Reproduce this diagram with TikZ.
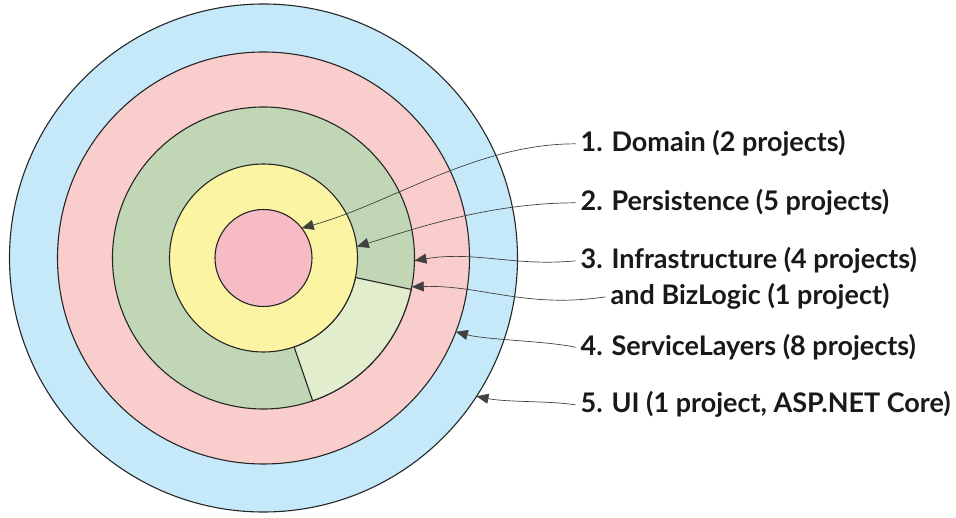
\documentclass[tikz,border=0pt]{standalone}
\usepackage{fontspec}
\setmainfont{Lato}
\usepackage{xcolor}
\usetikzlibrary{arrows.meta, positioning}
\definecolor{uiblue}{HTML}{C6E9FA}
\definecolor{servicepink}{HTML}{FACDCD}
\definecolor{infragreen}{HTML}{C0D6B4}
\definecolor{bizgreen}{HTML}{E2EDCD}
\definecolor{persistyellow}{HTML}{FBF4A2}
\definecolor{domainpink}{HTML}{F6BBC4}
\begin{document}
\begin{tikzpicture}[
    x=1pt, y=1pt,
    ring/.style={circle, draw=black!85, line width=1.1pt, inner sep=0pt, outer sep=0pt},
    layertext/.style={anchor=base west, inner xsep=5pt, inner ysep=2pt, font=\fontsize{27}{32}\selectfont\bfseries, text=black!90},
    arrow/.style={-{Triangle[length=12pt, width=10pt]}, line width=0.7pt, draw=black!75}
]
    \useasboundingbox (-263.5,-260) rectangle (692.5,258);

    \node[ring, fill=uiblue, minimum size=508pt] (ui) at (0,0) {};
    \node[ring, fill=servicepink, minimum size=412pt] (service) at (0,0) {};
    \node[ring, fill=infragreen, minimum size=302pt] (infra) at (0,0) {};
    \filldraw[fill=bizgreen, draw=black!85, line width=1.1pt] (-71:94) -- (-71:151) arc[start angle=-71, end angle=-12, radius=151] -- (-12:94) arc[start angle=-12, end angle=-71, radius=94] -- cycle;
    \node[ring, fill=persistyellow, minimum size=188pt] (persist) at (0,0) {};
    \node[ring, fill=domainpink, minimum size=97pt] (domain) at (0,0) {};
    \coordinate (biz) at (-11:151);

    \node[layertext] (l1) at (312,106) {1. Domain (2 projects)};
    \node[layertext] (l2) at (312,47) {2. Persistence (5 projects)};
    \node[layertext] (l3) at (312,-11) {3. Infrastructure (4 projects)};
    \node[layertext] (l3b) at (342,-47) {and BizLogic (1 project)};
    \node[layertext] (l4) at (312,-97.5) {4. ServiceLayers (8 projects)};
    \node[layertext] (l5) at (312,-155) {5. UI (1 project, ASP.NET Core)};

    \draw[arrow] (l1.west) .. controls +(-100,0) and +(90,25) .. (domain.38);
    \draw[arrow] (l2.west) .. controls +(-90,0) and +(50,15) .. (persist.7);
    \draw[arrow] (l3.west) .. controls +(-60,-6) and +(60,10) .. (infra.-1.5);
    \draw[arrow] (l3b.west) .. controls +(-80,-12) and +(70,2) .. (biz);
    \draw[arrow] (l4.west) .. controls +(-25,6) and +(30,-8) .. (service.-21);
    \draw[arrow] (l5.west) .. controls +(-25,4) and +(30,-6) .. (ui.-33);
\end{tikzpicture}
\end{document}
